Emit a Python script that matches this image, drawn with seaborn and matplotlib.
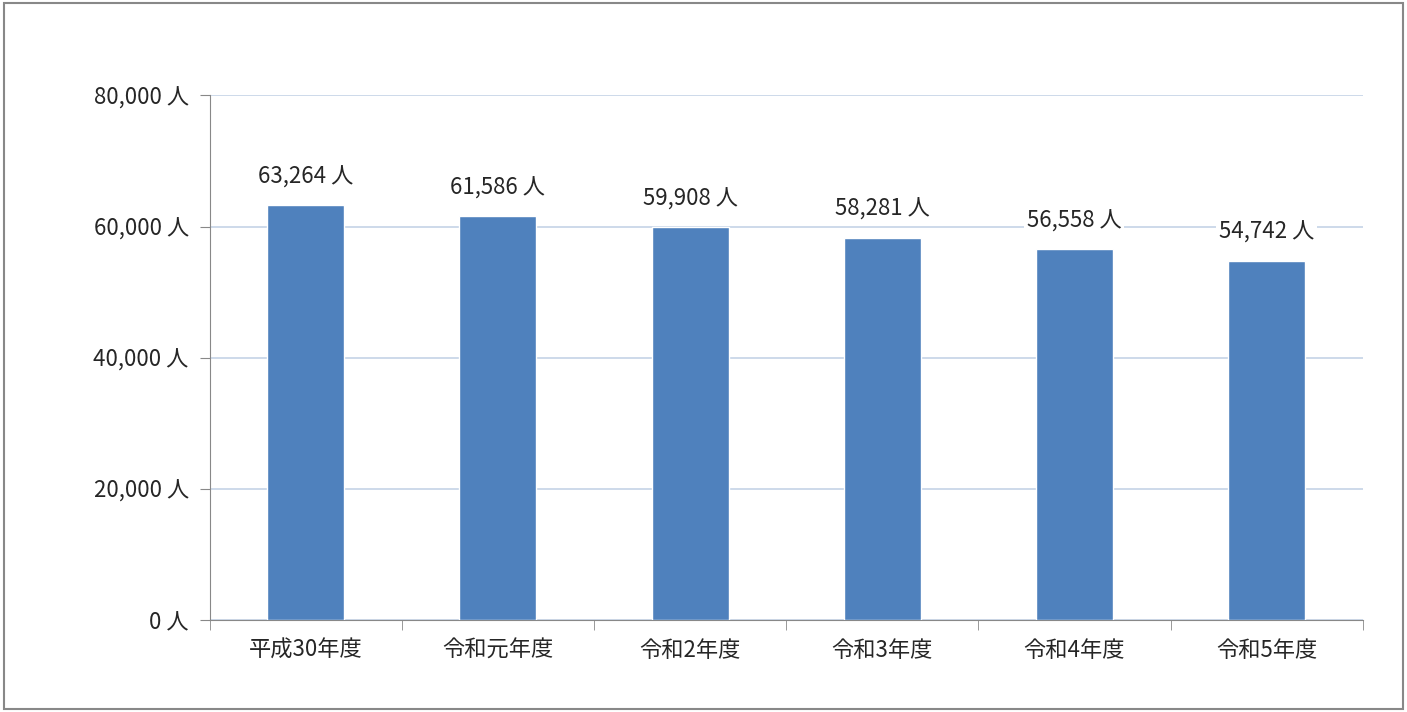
import matplotlib
matplotlib.use("Agg")
import matplotlib.pyplot as plt
import seaborn as sns
import numpy as np
from matplotlib.patches import Rectangle

categories = ["平成30年度", "令和元年度", "令和2年度", "令和3年度", "令和4年度", "令和5年度"]
values = [63264, 61586, 59908, 58281, 56558, 54742]
yticks = [0, 20000, 40000, 60000, 80000]

sns.set_style("white")
plt.rcParams["font.family"] = ["Noto Sans CJK JP", "DejaVu Sans"]

fig = plt.figure(figsize=(14.07, 7.12), dpi=100)
ax = fig.add_axes([0.149, 0.129, 0.8195, 0.737])
fig.patches.append(Rectangle((0.003, 0.004), 0.994, 0.992, transform=fig.transFigure,
                             fill=False, edgecolor="#888888", linewidth=1.5))

x = np.arange(len(categories))
sns.barplot(x=categories, y=values, color="#4F81BD", saturation=1, width=0.4, ax=ax, zorder=3)

ax.set_ylim(0, 80000)
ax.set_xlim(-0.5, len(categories) - 0.5)
ax.set_yticks(yticks)
ax.set_yticklabels([f"{v:,} 人" for v in yticks], fontsize=16)
ax.yaxis.grid(True, color="#C5D3E6", linewidth=1.2, zorder=0)
ax.set_axisbelow(True)
for s in ["top", "right"]:
    ax.spines[s].set_visible(False)
for s in ["left", "bottom"]:
    ax.spines[s].set_color("#888888")
ax.tick_params(axis="y", left=True, length=7, color="#888888", pad=8)
ax.set_xticks(x)
ax.set_xticklabels(categories, fontsize=16)
ax.tick_params(axis="x", bottom=False, pad=10)
ax.set_xticks(np.arange(-0.5, len(categories)), minor=True)
ax.tick_params(axis="x", which="minor", bottom=True, length=7, color="#888888")
ax.set_xlabel("")
ax.set_ylabel("")

for i, v in enumerate(values):
    ax.text(i, v + 2600, f"{v:,} 人", ha="center", va="bottom", fontsize=16, zorder=4,
            bbox=dict(facecolor="white", edgecolor="none", pad=2))

fig.savefig("out.png", dpi=100)
